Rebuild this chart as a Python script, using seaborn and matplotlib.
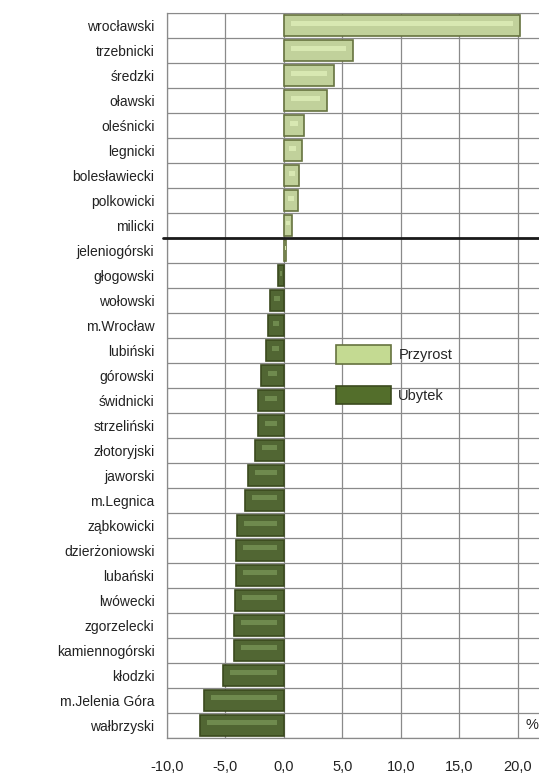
import matplotlib

matplotlib.use("Agg")

import matplotlib.pyplot as plt
import numpy as np
import pandas as pd
import seaborn as sns
from matplotlib.patches import Patch

counties = [
    "wrocławski", "trzebnicki", "średzki", "oławski", "oleśnicki", "legnicki",
    "bolesławiecki", "polkowicki", "milicki", "jeleniogórski", "głogowski",
    "wołowski", "m.Wrocław", "lubiński", "górowski", "świdnicki", "strzeliński",
    "złotoryjski", "jaworski", "m.Legnica", "ząbkowicki", "dzierżoniowski",
    "lubański", "lwówecki", "zgorzelecki", "kamiennogórski", "kłodzki",
    "m.Jelenia Góra", "wałbrzyski",
]
change = [
    20.2, 5.9, 4.3, 3.7, 1.7, 1.5, 1.3, 1.2, 0.7, 0.2, -0.5,
    -1.2, -1.4, -1.5, -2.0, -2.2, -2.2, -2.5, -3.1, -3.3, -4.0, -4.1,
    -4.1, -4.2, -4.3, -4.3, -5.2, -6.8, -7.2,
]
x_ticks = [-10, -5, 0, 5, 10, 15, 20]
legend_labels = ["Przyrost", "Ubytek"]

df = pd.DataFrame({"county": counties, "change": change})
df["kind"] = np.where(df["change"] >= 0, legend_labels[0], legend_labels[1])

fill = {"Przyrost": "#c4da92", "Ubytek": "#536e2b"}
edge = {"Przyrost": "#66733f", "Ubytek": "#3b4a1e"}
shine = {"Przyrost": "#d8e8b2", "Ubytek": "#6f8a4e"}

sns.set_style("white")
plt.rcParams["font.family"] = ["Liberation Sans", "DejaVu Sans"]

fig = plt.figure(figsize=(5.39, 7.80), dpi=100)
ax = fig.add_axes([167 / 539, 42 / 780, 372 / 539, 725 / 780])

sns.barplot(data=df, x="change", y="county", hue="kind", palette=fill,
            dodge=False, width=0.82, orient="h", legend=False, ax=ax,
            linewidth=1.2, zorder=3)
for bar, kind in zip(ax.patches, df["kind"]):
    bar.set_edgecolor(edge[kind])

# soft highlight stripe inside each bar
ypos = np.arange(len(df))
inset = np.minimum(0.6, df["change"].abs() * 0.3) * np.sign(df["change"])
ax.barh(ypos - 0.1, df["change"] - 2 * inset, left=inset, height=0.2,
        color=[shine[k] for k in df["kind"]], linewidth=0, zorder=4)

ax.set_xlim(-10, 21.8)
ax.set_ylim(len(df) - 0.5, -0.5)
ax.set_xticks(x_ticks)
ax.set_xticklabels([f"{t:.1f}".replace(".", ",") for t in x_ticks])
ax.set_yticks(ypos)
ax.set_yticks(np.arange(len(df) + 1) - 0.5, minor=True)
ax.grid(True, axis="x", which="major", color="#8a8a8a", linewidth=0.9, zorder=0)
ax.grid(True, axis="y", which="minor", color="#8a8a8a", linewidth=0.9, zorder=0)
ax.grid(False, axis="y", which="major")
ax.set_axisbelow(True)

ax.tick_params(axis="x", which="major", length=4, color="#8a8a8a", pad=12,
               labelsize=10.5, labelcolor="#222222")
ax.tick_params(axis="y", which="major", length=0, pad=9, labelsize=10,
               labelcolor="#222222")
ax.tick_params(axis="y", which="minor", length=4, color="#8a8a8a")
ax.set_xlabel("")
ax.set_ylabel("")

for side in ["left", "bottom"]:
    ax.spines[side].set_color("#8a8a8a")
    ax.spines[side].set_linewidth(0.9)
ax.spines["top"].set_color("#8a8a8a")
ax.spines["right"].set_visible(False)

# separator between the growth and decline groups
ax.axhline(8.5, xmin=-0.012, xmax=1, color="#1a1a1a", linewidth=2, zorder=5,
           clip_on=False)

handles = [Patch(facecolor=fill[k], edgecolor=edge[k], linewidth=1.2)
           for k in legend_labels]
ax.legend(handles, legend_labels, loc="upper left", bbox_to_anchor=(0.418, 0.56),
          frameon=False, handlelength=3.8, handleheight=1.6, labelspacing=1.5,
          handletextpad=0.5, fontsize=10.5)

ax.text(0.965, 0.008, "%", transform=ax.transAxes, fontsize=10.5,
        color="#222222", ha="left", va="bottom")

fig.savefig("out.png", dpi=100)
